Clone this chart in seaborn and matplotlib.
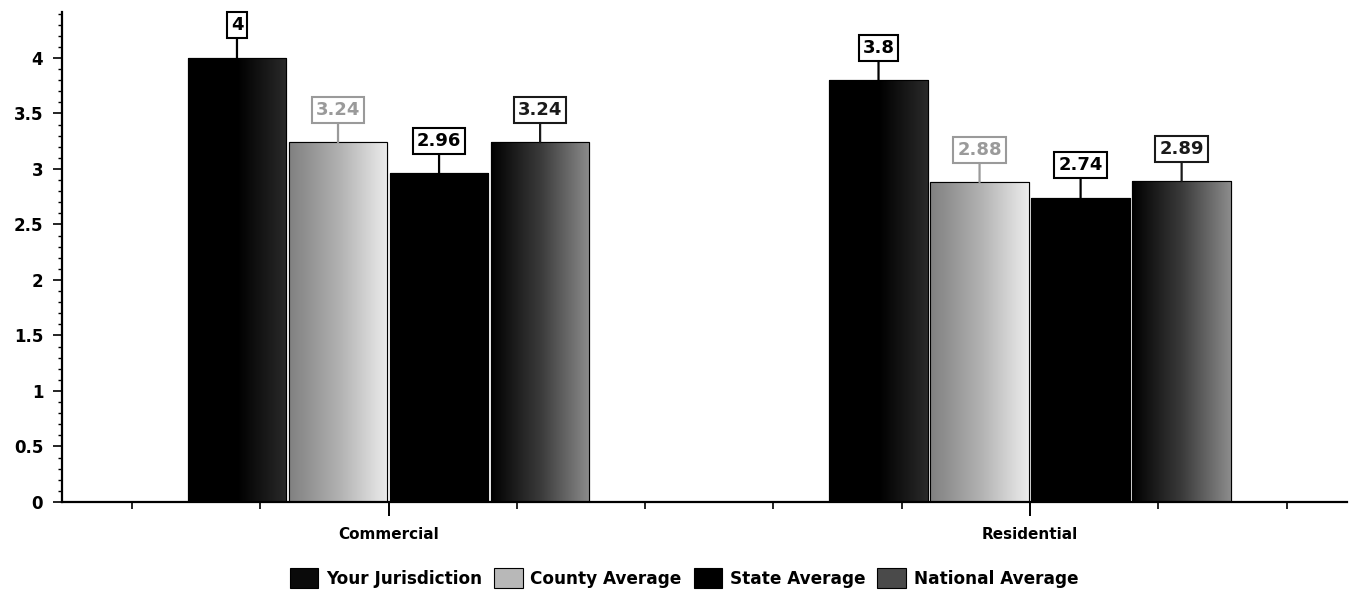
import numpy as np
import pandas as pd
import matplotlib
matplotlib.use("Agg")
import matplotlib.pyplot as plt
from matplotlib.colors import LinearSegmentedColormap
from matplotlib.ticker import MultipleLocator, FixedLocator
import seaborn as sns

# Data
categories = ["Commercial", "Residential"]
series = ["Your Jurisdiction", "County Average", "State Average", "National Average"]
your_jurisdiction = [4.0, 3.8]
county_average = [3.24, 2.88]
state_average = [2.96, 2.74]
national_average = [3.24, 2.89]

values = [your_jurisdiction, county_average, state_average, national_average]
rows = []
for s, vals in zip(series, values):
    for c, v in zip(categories, vals):
        rows.append({"category": c, "series": s, "value": v})
df = pd.DataFrame(rows)

sns.set_theme(style="white")
plt.rcParams["font.family"] = ["DejaVu Sans"]

palette = ["#0a0a0a", "#b8b8b8", "#000000", "#4a4a4a"]
label_colors = ["#000000", "#9a9a9a", "#000000", "#1a1a1a"]
# left-to-right shading inside each bar
gradients = [
    ("#000000", "#000000", "#2a2a2a"),
    ("#808080", "#b0b0b0", "#ececec"),
    ("#000000", "#000000", "#000000"),
    ("#000000", "#3a3a3a", "#8c8c8c"),
]

fig = plt.figure(figsize=(13.53, 5.94), dpi=100)
ax = fig.add_axes([62 / 1353, 1 - 502 / 594, 1285 / 1353, 490 / 594])

sns.barplot(data=df, x="category", y="value", hue="series", order=categories,
            hue_order=series, palette=palette, width=0.63, gap=0.025,
            edgecolor="black", linewidth=0.8, saturation=1, ax=ax, legend=True)

for i, container in enumerate(ax.containers):
    cmap = LinearSegmentedColormap.from_list(f"g{i}", list(gradients[i]))
    grad = np.linspace(0, 1, 256).reshape(1, -1)
    for bar in container:
        x0, y0 = bar.get_x(), bar.get_y()
        w, h = bar.get_width(), bar.get_height()
        im = ax.imshow(grad, cmap=cmap, aspect="auto",
                       extent=(x0, x0 + w, y0, y0 + h), zorder=bar.get_zorder() + 0.1)
        im.set_clip_path(bar)
        edge = plt.Rectangle((x0, y0), w, h, fill=False, ec="black", lw=0.8,
                             zorder=bar.get_zorder() + 0.2)
        ax.add_patch(edge)
        ax.annotate(f"{h:g}", xy=(x0 + w / 2, h), xytext=(0, 17),
                    textcoords="offset points", ha="center", va="bottom",
                    fontsize=13, fontweight="bold", color=label_colors[i],
                    bbox=dict(boxstyle="square,pad=0.22", fc="white",
                              ec=label_colors[i], lw=1.5),
                    arrowprops=dict(arrowstyle="-", color=label_colors[i], lw=1.6,
                                    shrinkA=0, shrinkB=0),
                    zorder=5)

ax.set_xlim(-0.509, 1.494)
ax.set_ylim(0, 4.414)

# Axes styling
sns.despine(ax=ax, top=True, right=True)
for sp in ("left", "bottom"):
    ax.spines[sp].set_color("black")
    ax.spines[sp].set_linewidth(1.6)

ax.yaxis.set_minor_locator(MultipleLocator(0.1))
ax.set_yticks(np.arange(0, 4.01, 0.5))
ax.set_yticklabels([f"{t:g}" for t in np.arange(0, 4.01, 0.5)])
ax.xaxis.set_minor_locator(FixedLocator([-0.4, -0.2, 0.2, 0.4, 0.6, 0.8, 1.2, 1.4]))
ax.tick_params(axis="y", which="major", direction="out", length=6.5, width=1.2,
               color="black", labelsize=12, pad=7, left=True, labelcolor="black")
ax.tick_params(axis="y", which="minor", direction="out", length=3, width=1.0,
               color="black", left=True)
ax.tick_params(axis="x", which="major", direction="out", length=10, width=1.4,
               color="black", labelsize=11, pad=8, bottom=True, labelcolor="black")
ax.tick_params(axis="x", which="minor", direction="out", length=5, width=1.2,
               color="black", bottom=True)
for lbl in ax.get_yticklabels() + ax.get_xticklabels():
    lbl.set_fontweight("bold")
ax.set_xlabel("")
ax.set_ylabel("")
ax.grid(False)

# Legend along the bottom
handles, labels = ax.get_legend_handles_labels()
ax.get_legend().remove()
leg = fig.legend(handles, labels, loc="center", bbox_to_anchor=(0.5055, 0.027), ncol=4,
                 frameon=False, prop={"size": 12.2, "weight": "bold"},
                 handlelength=1.7, handleheight=1.4, handletextpad=0.45,
                 columnspacing=0.7, borderaxespad=0, borderpad=0)
for t in leg.get_texts():
    t.set_color("black")

fig.savefig("out.png", dpi=100, facecolor="white")
